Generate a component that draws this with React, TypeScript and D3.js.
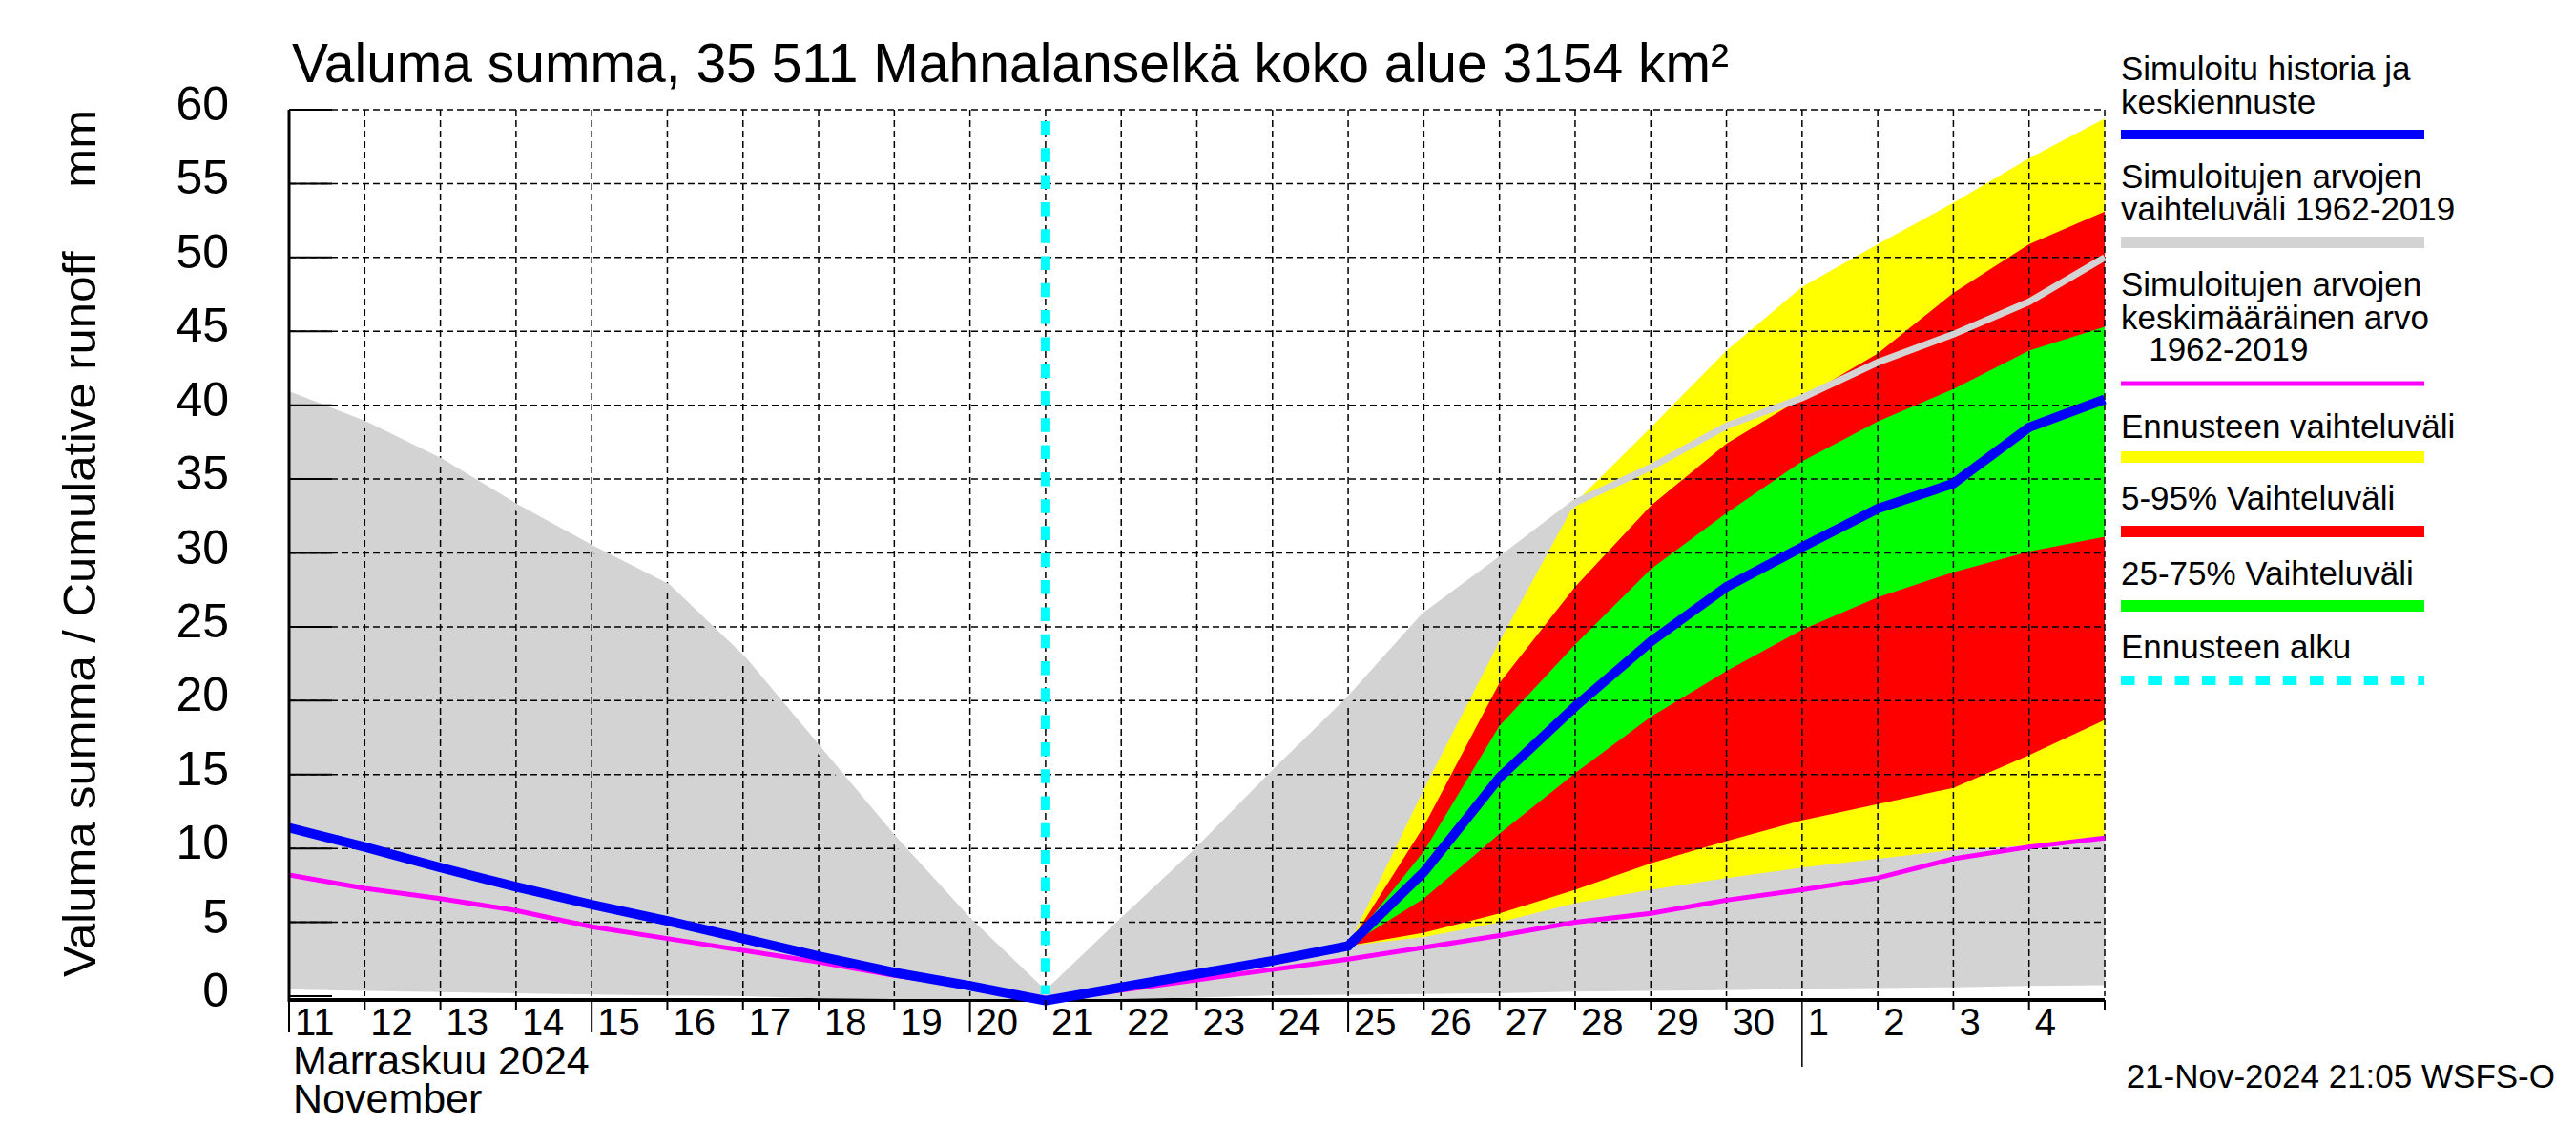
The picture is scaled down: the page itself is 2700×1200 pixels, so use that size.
import React, { useEffect, useRef } from 'react';
import * as d3 from 'd3';

// daily values, 00:00 of each day, Nov 11 - Dec 5 2024
const days = [
  "2024-11-11", "2024-11-12", "2024-11-13", "2024-11-14", "2024-11-15",
  "2024-11-16", "2024-11-17", "2024-11-18", "2024-11-19", "2024-11-20",
  "2024-11-21", "2024-11-22", "2024-11-23", "2024-11-24", "2024-11-25",
  "2024-11-26", "2024-11-27", "2024-11-28", "2024-11-29", "2024-11-30",
  "2024-12-01", "2024-12-02", "2024-12-03", "2024-12-04", "2024-12-05",
];
const dayLabels = [
  "11", "12", "13", "14", "15", "16", "17", "18", "19", "20", "21", "22",
  "23", "24", "25", "26", "27", "28", "29", "30", "1", "2", "3", "4",
];

// simulated history + mean forecast (blue)
const simulated = [11.4, 10.1, 8.7, 7.4, 6.2, 5.1, 3.9, 2.7, 1.6, 0.7, -0.3, 0.6, 1.5, 2.4, 3.4,
  8.4, 14.8, 19.6, 24.0, 27.7, 30.4, 33.0, 34.7, 38.5, 40.4];
// mean of simulated values 1962-2019 (magenta)
const histMean = [8.2, 7.3, 6.6, 5.8, 4.7, 3.9, 3.1, 2.3, 1.4, 0.7, -0.3, 0.4, 1.1, 1.8, 2.5,
  3.3, 4.1, 5.0, 5.6, 6.5, 7.2, 8.0, 9.3, 10.1, 10.7];
// range of simulated values 1962-2019 (gray)
const histMin = [0.45, 0.35, 0.28, 0.2, 0.12, 0.05, 0, -0.15, -0.2, -0.2, -0.2, -0.2, -0.1, 0.05, 0.1,
  0.15, 0.2, 0.3, 0.35, 0.4, 0.5, 0.55, 0.6, 0.7, 0.75];
const histMax = [40.7, 38.7, 36.2, 33.1, 30.3, 27.7, 22.8, 16.7, 10.6, 5.0, 0.1, 5.0, 9.8, 15.0, 20.0,
  25.7, 29.5, 33.4, 35.8, 38.6, 40.5, 42.9, 44.8, 47.0, 50.0];

// forecast bands, Nov 25 - Dec 5
const forecastDays = days.slice(14);
const fcMin = [3.4, 4.0, 5.0, 6.3, 7.2, 8.0, 8.7, 9.3, 9.9, 10.2, 10.8];
const fcMax = [3.4, 14.0, 24.0, 33.4, 38.5, 43.7, 48.0, 50.9, 53.7, 56.7, 59.4];
const p5 = [3.4, 4.3, 5.6, 7.2, 9.0, 10.5, 11.9, 13.0, 14.1, 16.3, 18.7];
const p95 = [3.4, 11.5, 21.2, 27.7, 33.2, 37.4, 40.5, 43.5, 47.6, 50.9, 53.1];
const p25 = [3.4, 6.6, 11.0, 15.1, 18.9, 22.0, 24.8, 27.0, 28.7, 30.1, 31.1];
const p75 = [3.4, 9.8, 18.3, 23.8, 28.9, 32.7, 36.2, 38.9, 41.1, 43.7, 45.3];

const forecastStart = "2024-11-21";
const yTicks = [0, 5, 10, 15, 20, 25, 30, 35, 40, 45, 50, 55, 60];

const legendItems = [
  { lines: ["Simuloitu historia ja", "keskiennuste"], color: "#0000ff" },
  { lines: ["Simuloitujen arvojen", "vaihteluväli 1962-2019"], color: "#d3d3d3" },
  { lines: ["Simuloitujen arvojen", "keskimääräinen arvo", "   1962-2019"], color: "#ff00ff" },
  { lines: ["Ennusteen vaihteluväli"], color: "#ffff00" },
  { lines: ["5-95% Vaihteluväli"], color: "#ff0000" },
  { lines: ["25-75% Vaihteluväli"], color: "#00ff00" },
  { lines: ["Ennusteen alku"], color: "#00ffff" },
];

export default function App() {
  const svgRef = useRef<SVGSVGElement>(null);

  useEffect(() => {
    if (!svgRef.current) return;
    const svg = d3.select(svgRef.current);
    svg.selectAll("*").remove();

    const font = "'Liberation Sans', Arial, Helvetica, sans-serif";
    const left = 303, right = 2206, top = 115, bottom = 1044;

    const parse = d3.utcParse("%Y-%m-%d");
    const dates = days.map(d => parse(d)!);
    const fDates = forecastDays.map(d => parse(d)!);

    const x = d3.scaleUtc().domain([dates[0], dates[dates.length - 1]]).range([left, right]);
    const y = d3.scaleLinear().domain([0, 60]).range([bottom, top]);

    svg.append("rect").attr("width", 2700).attr("height", 1200).attr("fill", "white");

    // bottom axis line (gray area may cover it)
    svg.append("line")
      .attr("x1", left).attr("x2", right)
      .attr("y1", bottom + 4).attr("y2", bottom + 4)
      .attr("stroke", "black").attr("stroke-width", 4);

    const band = (xs: Date[], lo: number[], hi: number[]) =>
      d3.area<number>()
        .x((_, i) => x(xs[i]))
        .y0((_, i) => y(lo[i]))
        .y1(d => y(d))(hi);

    svg.append("path").attr("d", band(dates, histMin, histMax)).attr("fill", "#d3d3d3");
    svg.append("path").attr("d", band(fDates, fcMin, fcMax)).attr("fill", "#ffff00");
    svg.append("path").attr("d", band(fDates, p5, p95)).attr("fill", "#ff0000");
    svg.append("path").attr("d", band(fDates, p25, p75)).attr("fill", "#00ff00");

    // grid
    const grid = svg.append("g").attr("stroke", "black").attr("stroke-width", 1.5).attr("stroke-dasharray", "7,4");
    yTicks.filter(t => t > 0).forEach(t => {
      grid.append("line").attr("x1", left).attr("x2", right).attr("y1", y(t)).attr("y2", y(t));
    });
    dates.slice(1).forEach(d => {
      grid.append("line").attr("x1", x(d)).attr("x2", x(d)).attr("y1", top).attr("y2", bottom);
    });

    const line = (xs: Date[]) => d3.line<number>().x((_, i) => x(xs[i])).y(d => y(d));

    // upper edge of historical range
    svg.append("path").attr("d", line(dates)(histMax))
      .attr("fill", "none").attr("stroke", "#d3d3d3").attr("stroke-width", 7);
    svg.append("path").attr("d", line(dates)(histMean))
      .attr("fill", "none").attr("stroke", "#ff00ff").attr("stroke-width", 5);
    svg.append("path").attr("d", line(dates)(simulated))
      .attr("fill", "none").attr("stroke", "#0000ff").attr("stroke-width", 10);

    // forecast start
    const fx = x(parse(forecastStart)!);
    svg.append("line")
      .attr("x1", fx).attr("x2", fx).attr("y1", top).attr("y2", bottom - 2)
      .attr("stroke", "#00ffff").attr("stroke-width", 10)
      .attr("stroke-dasharray", "14.5,13.8").attr("stroke-dashoffset", 16.3);

    // left axis
    svg.append("line").attr("x1", left).attr("x2", left).attr("y1", top).attr("y2", bottom + 6)
      .attr("stroke", "black").attr("stroke-width", 3);
    yTicks.forEach(t => {
      svg.append("line").attr("x1", left).attr("x2", left + 45).attr("y1", y(t)).attr("y2", y(t))
        .attr("stroke", "black").attr("stroke-width", 2);
      svg.append("text")
        .attr("x", 240).attr("y", y(t) + 11)
        .attr("text-anchor", "end")
        .style("font-family", font).style("font-size", "50px")
        .text(t);
    });

    // x ticks and labels
    dates.forEach((d, i) => {
      const day = d.getUTCDate();
      const month = day === 1;
      const long = i === 0 || day === 15 || day === 20 || day === 25;
      const y2 = month ? 1118 : long ? 1082 : bottom + 14;
      svg.append("line").attr("x1", x(d)).attr("x2", x(d)).attr("y1", bottom + 4).attr("y2", y2)
        .attr("stroke", "black").attr("stroke-width", month ? 1.5 : 2);
      if (i < dayLabels.length) {
        svg.append("text")
          .attr("x", x(d) + 6).attr("y", 1085)
          .style("font-family", font).style("font-size", "40px")
          .text(dayLabels[i]);
      }
    });

    svg.append("text").attr("x", left + 4).attr("y", 1126)
      .style("font-family", font).style("font-size", "43px").text("Marraskuu 2024");
    svg.append("text").attr("x", left + 4).attr("y", 1166)
      .style("font-family", font).style("font-size", "43px").text("November");

    // titles
    svg.append("text").attr("x", 306).attr("y", 86)
      .style("font-family", font).style("font-size", "57px")
      .text("Valuma summa, 35 511 Mahnalanselkä koko alue 3154 km²");

    svg.append("text").attr("transform", "translate(100,1024) rotate(-90)")
      .style("font-family", font).style("font-size", "49px")
      .text("Valuma summa / Cumulative runoff");
    svg.append("text").attr("transform", "translate(100,115) rotate(-90)")
      .attr("text-anchor", "end")
      .style("font-family", font).style("font-size", "49px")
      .text("mm");

    svg.append("text").attr("x", 2678).attr("y", 1140).attr("text-anchor", "end")
      .style("font-family", font).style("font-size", "35px")
      .text("21-Nov-2024 21:05 WSFS-O");

    // legend
    const legendLayout = [
      { text: [84, 119], line: 141, width: 10 },
      { text: [197, 231], line: 254, width: 12 },
      { text: [310, 345, 378], line: 402, width: 5 },
      { text: [459], line: 479, width: 12 },
      { text: [534], line: 557, width: 12 },
      { text: [613], line: 635, width: 12 },
      { text: [690], line: 713, width: 10 },
    ];
    legendItems.forEach((item, k) => {
      const lay = legendLayout[k];
      item.lines.forEach((t, j) => {
        svg.append("text").attr("x", 2223).attr("y", lay.text[j])
          .style("font-family", font).style("font-size", "35px").style("white-space", "pre")
          .text(t);
      });
      const l = svg.append("line").attr("x1", 2223).attr("x2", 2541).attr("y1", lay.line).attr("y2", lay.line)
        .attr("stroke", item.color).attr("stroke-width", lay.width);
      if (k === legendItems.length - 1) l.attr("stroke-dasharray", "14.5,13.8");
    });
  }, []);

  return (
    <svg ref={svgRef} width={2700} height={1200}
      style={{ position: 'absolute', left: 0, top: 0, display: 'block' }} />
  );
}
